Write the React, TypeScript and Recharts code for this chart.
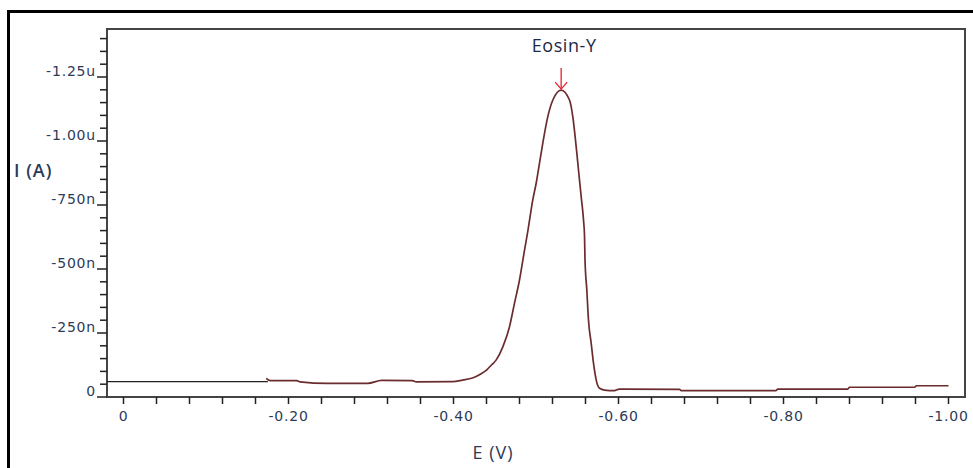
import { LineChart, Line, XAxis, YAxis, ReferenceArea, ReferenceDot } from 'recharts';

// baseline segment drawn in black before the scan trace starts
const baseE = [0.02, -0.175];
const baseI = [-60, -60];

// E (V) and I (nA) of the brown trace
const traceE = [
  -0.173, -0.178, -0.21, -0.214, -0.247, -0.296, -0.313, -0.35, -0.355, -0.399,
  -0.411, -0.423, -0.432, -0.44, -0.446, -0.4518, -0.4598, -0.4679, -0.4739, -0.48,
  -0.4861, -0.4903, -0.4961, -0.5002, -0.5042, -0.5082, -0.5143, -0.5204, -0.5305, -0.5406,
  -0.5446, -0.5487, -0.5519, -0.5548, -0.5576, -0.5588, -0.5594, -0.5616, -0.5636, -0.5669,
  -0.5697, -0.573, -0.577, -0.583, -0.595, -0.601, -0.674, -0.676, -0.791, -0.793,
  -0.878, -0.88, -0.959, -0.961, -1.0,
];
const traceI = [
  -73, -64, -64, -59, -53, -53, -65, -64, -59, -60,
  -66, -74, -88, -105, -125, -145, -196, -275, -366, -457,
  -574, -652, -770, -835, -913, -991, -1095, -1160, -1199, -1160,
  -1095, -978, -874, -782, -691, -630, -535, -418, -301, -210,
  -132, -66, -34, -27, -25, -31, -30, -25, -25, -31,
  -31, -38, -38, -44, -44,
];

const peakLabel = 'Eosin-Y';
const peakE = -0.5305;
const peakI = -1199;

const xTicks = [
  0, -0.04, -0.08, -0.12, -0.16, -0.2, -0.24, -0.28, -0.32, -0.36, -0.4, -0.44, -0.48,
  -0.52, -0.56, -0.6, -0.64, -0.68, -0.72, -0.76, -0.8, -0.84, -0.88, -0.92, -0.96, -1.0,
];
const yTicks = Array.from({ length: 29 }, (_, i) => -i * 50);

const baseData = baseE.map((e, i) => ({ e, i: baseI[i] }));
const traceData = traceE.map((e, i) => ({ e, i: traceI[i] }));

const TICK_COLOR = '#2d3a5a';
const tickFont = { fontFamily: 'DejaVu Sans', fontSize: 14, letterSpacing: 0.8 };

const fmtY = (v: number) => {
  if (v === 0) return '0';
  const a = Math.abs(v);
  return a >= 1000 ? `-${(a / 1000).toFixed(2)}u` : `-${a}n`;
};

const XTick = ({ x, y, payload }: any) => {
  const v = payload.value as number;
  const major = Math.round(Math.abs(v) * 100) % 20 === 0;
  return (
    <g>
      <line x1={x} x2={x} y1={y} y2={y + 7} stroke="#222" strokeWidth={1.5} />
      {major && (
        <text x={x} y={y + 24} textAnchor="middle" fill={TICK_COLOR} style={tickFont}>
          {v === 0 ? '0' : v.toFixed(2)}
        </text>
      )}
    </g>
  );
};

const YTick = ({ x, y, payload }: any) => {
  const v = payload.value as number;
  const major = Math.round(Math.abs(v)) % 250 === 0;
  return (
    <g>
      <line x1={x - (major ? 10 : 7)} x2={x} y1={y} y2={y} stroke="#222" strokeWidth={1.5} />
      {major && (
        <text x={x - 11} y={y - 1} textAnchor="end" fill={TICK_COLOR} style={tickFont}>
          {fmtY(v)}
        </text>
      )}
    </g>
  );
};

const PeakMark = ({ cx, cy }: any) => (
  <g>
    <line x1={cx} x2={cx} y1={cy - 22} y2={cy - 1} stroke="#e8202a" strokeWidth={1.3} />
    <polyline
      points={`${cx - 6},${cy - 8} ${cx},${cy - 1} ${cx + 6},${cy - 8}`}
      fill="none"
      stroke="#e8202a"
      strokeWidth={1.3}
    />
    <text
      x={cx + 3}
      y={cy - 38}
      textAnchor="middle"
      fill="#1e2a48"
      style={{ fontFamily: 'Open Sans', fontSize: 18, letterSpacing: 0.6 }}
    >
      {peakLabel}
    </text>
  </g>
);

export default function App() {
  return (
    <div
      style={{
        position: 'fixed',
        left: 0,
        top: 0,
        width: 973,
        height: 468,
        background: '#fff',
        overflow: 'hidden',
      }}
    >
      {/* outer black frame, runs off the right and bottom edges */}
      <div
        style={{
          position: 'absolute',
          left: 7,
          top: 10,
          width: 1100,
          height: 600,
          border: '3px solid #000',
        }}
      />
      <div style={{ position: 'absolute', left: 0, top: 0 }}>
        <LineChart width={973} height={468} margin={{ top: 29, right: 8, bottom: 31, left: 0 }}>
          <XAxis
            dataKey="e"
            type="number"
            domain={[-1.02, 0.02]}
            reversed
            allowDataOverflow
            ticks={xTicks}
            interval={0}
            tickSize={0}
            tickMargin={0}
            tickLine={false}
            axisLine={false}
            tick={<XTick />}
            height={40}
            label={{
              content: ({ viewBox }: any) => (
                <text
                  x={viewBox.x + viewBox.width * 0.45}
                  y={viewBox.y + 62}
                  textAnchor="middle"
                  fill="#2b3a55"
                  style={{ fontFamily: 'Open Sans', fontSize: 18, letterSpacing: 1 }}
                >
                  E (V)
                </text>
              ),
            }}
          />
          <YAxis
            dataKey="i"
            type="number"
            domain={[-1437.5, 0]}
            reversed
            allowDataOverflow
            ticks={yTicks}
            interval={0}
            tickSize={0}
            tickMargin={0}
            tickLine={false}
            axisLine={false}
            tick={<YTick />}
            width={107}
            label={{
              content: ({ viewBox }: any) => (
                <text
                  x={14}
                  y={viewBox.y + 148}
                  fill="#2b3a55"
                  style={{ fontFamily: 'Open Sans', fontSize: 18, fontWeight: 600, letterSpacing: 1 }}
                >
                  I (A)
                </text>
              ),
            }}
          />
          <ReferenceArea
            x1={-1.02}
            x2={0.02}
            y1={-1437.5}
            y2={0}
            fill="none"
            stroke="#444"
            strokeWidth={2}
            ifOverflow="extendDomain"
          />
          <Line
            data={baseData}
            dataKey="i"
            type="linear"
            stroke="#222"
            strokeWidth={1.3}
            dot={false}
            isAnimationActive={false}
          />
          <Line
            data={traceData}
            dataKey="i"
            type="monotone"
            stroke="#6a2c2c"
            strokeWidth={1.7}
            dot={false}
            isAnimationActive={false}
          />
          <ReferenceDot x={peakE} y={peakI} r={0} shape={<PeakMark />} />
        </LineChart>
      </div>
    </div>
  );
}
